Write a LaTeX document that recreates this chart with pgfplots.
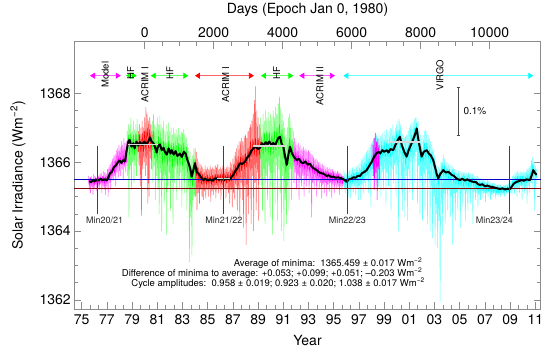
\documentclass[border=0pt]{standalone}
\usepackage{fontspec}
\setmainfont{TeX Gyre Heros}
\usepackage{pgfplots}
\pgfplotsset{compat=1.18}
\usetikzlibrary{arrows.meta}
\definecolor{mag}{RGB}{255,0,255}
\definecolor{lmag}{RGB}{255,100,255}
\definecolor{grn}{RGB}{0,255,0}
\definecolor{lgrn}{RGB}{110,255,110}
\definecolor{rd}{RGB}{255,0,0}
\definecolor{lrd}{RGB}{255,100,100}
\definecolor{cyn}{RGB}{0,255,255}
\definecolor{lcyn}{RGB}{100,255,255}
\definecolor{maroon}{RGB}{128,0,0}
\definecolor{blu}{RGB}{0,0,200}
\tikzset{
  larr/.style 2 args={draw=#2, line width=0.8pt, mark=none,
    arrows={Triangle[length=5pt,width=6pt,color=#1]-Triangle[length=5pt,width=6pt,color=#1]}},
  dat/.style={#1, line width=0.5pt, line join=bevel, mark=none},
}
\begin{document}
\begin{tikzpicture}
\pgfplotsset{/pgf/number format/1000 sep={}, /pgf/number format/assume math mode=true}
\begin{axis}[
  scale only axis, width=466.4pt, height=267.8pt,
  xmin=74.413, xmax=111.43, ymin=1361.727, ymax=1369.5,
  axis line style={black!45, line width=0.6pt},
  tick style={black!45, line width=0.6pt},
  tick align=inside, major tick length=7pt, minor tick length=4pt,
  xtick={75,77,...,111},
  xticklabels={75,77,79,81,83,85,87,89,91,93,95,97,99,01,03,05,07,09,11},
  minor x tick num=2, xtick pos=left,
  ytick={1362,1364,1366,1368}, minor y tick num=3,
  ytick pos=both, yticklabel pos=left,
  tick label style={font=\fontsize{14}{16}\selectfont, text=black},
  xticklabel style={yshift=-2pt},
  clip=false,
]
% ---------- light daily data ----------
\addplot[dat=lmag] coordinates {(75.55,1365.6)(75.6,1365.2)(75.65,1365.55)(75.7,1365.1)(75.75,1365.6)(75.8,1365.3)(75.85,1365.5)(75.9,1365.05)(75.95,1365.65)(76.0,1365.25)(76.05,1365.6)(76.1,1365.35)(76.15,1365.55)(76.2,1365.15)(76.25,1365.7)(76.3,1365.3)(76.35,1365.6)(76.4,1365.2)(76.45,1365.65)(76.5,1365.35)(76.55,1365.7)(76.6,1365.1)(76.65,1365.6)(76.7,1365.3)(76.75,1365.75)(76.8,1365.2)(76.85,1365.7)(76.9,1365.05)(76.95,1365.65)(77.0,1365.3)(77.05,1365.8)(77.1,1365.0)(77.15,1365.85)(77.2,1365.4)(77.25,1365.95)(77.3,1365.2)(77.35,1366.0)(77.4,1365.5)(77.45,1366.1)(77.5,1365.45)(77.55,1366.2)(77.6,1365.6)(77.65,1366.25)(77.7,1365.3)(77.75,1366.35)(77.8,1365.7)(77.85,1366.4)(77.9,1365.55)(77.95,1366.5)(78.0,1365.75)(78.05,1366.45)(78.1,1365.6)(78.15,1366.6)(78.2,1365.8)(78.25,1366.5)(78.3,1365.5)(78.35,1366.7)(78.4,1365.85)(78.45,1366.55)(78.5,1365.7)(78.55,1366.6)(78.6,1365.9)};
\addplot[dat=lgrn] coordinates {(78.6,1366.9)(78.65,1365.6)(78.7,1367.1)(78.75,1364.4)(78.8,1367.0)(78.85,1365.8)(78.9,1367.3)(78.95,1365.2)(79.0,1366.9)(79.05,1366.0)(79.1,1367.2)(79.15,1365.4)(79.2,1366.95)(79.25,1365.9)(79.3,1367.1)(79.35,1365.6)(79.4,1367.25)(79.45,1366.0)(79.5,1366.9)};
\addplot[dat=lrd] coordinates {(79.5,1366.9)(79.55,1365.9)(79.6,1367.1)(79.65,1365.3)(79.7,1367.0)(79.75,1364.45)(79.8,1367.2)(79.85,1365.8)(79.9,1367.0)(79.95,1366.0)(80.0,1367.3)(80.05,1365.6)(80.1,1367.6)(80.15,1365.9)(80.2,1367.4)(80.25,1364.8)(80.3,1367.2)(80.35,1365.0)(80.4,1367.3)(80.45,1366.1)(80.5,1367.1)(80.55,1365.8)(80.6,1366.9)};
\addplot[dat=lgrn] coordinates {(80.6,1367.2)(80.65,1365.4)(80.7,1367.4)(80.75,1365.9)(80.8,1367.1)(80.85,1364.9)(80.9,1367.0)(80.95,1365.6)(81.0,1367.3)(81.05,1365.2)(81.1,1367.1)(81.15,1364.5)(81.2,1367.35)(81.25,1365.7)(81.3,1367.1)(81.35,1364.0)(81.4,1367.0)(81.45,1365.5)(81.5,1367.2)(81.55,1364.8)(81.6,1366.9)(81.65,1365.6)(81.7,1367.1)(81.75,1363.9)(81.8,1366.9)(81.85,1365.3)(81.9,1367.15)(81.95,1365.7)(82.0,1366.9)(82.05,1364.6)(82.1,1367.0)(82.15,1365.5)(82.2,1366.8)(82.25,1364.2)(82.3,1367.0)(82.35,1365.4)(82.4,1366.85)(82.45,1365.8)(82.5,1366.95)(82.55,1364.9)(82.6,1366.8)(82.65,1365.5)(82.7,1367.0)(82.75,1365.2)(82.8,1366.8)(82.85,1365.7)(82.9,1366.9)(82.95,1364.7)(83.0,1366.85)(83.05,1365.5)(83.1,1366.95)(83.15,1365.1)(83.2,1366.8)(83.25,1365.6)(83.3,1366.7)(83.35,1364.6)(83.4,1366.5)(83.45,1365.2)(83.5,1366.4)(83.55,1363.1)(83.6,1366.3)(83.65,1364.4)(83.7,1366.1)(83.75,1363.3)(83.8,1366.2)(83.85,1364.9)(83.9,1366.4)(83.95,1365.0)(84.0,1366.3)};
\addplot[dat=lrd] coordinates {(84.0,1366.4)(84.05,1365.0)(84.1,1366.3)(84.15,1364.6)(84.2,1366.1)(84.25,1365.1)(84.3,1366.0)(84.35,1364.8)(84.4,1365.95)(84.45,1365.2)(84.5,1365.9)(84.55,1365.0)(84.6,1365.85)(84.65,1364.9)(84.7,1365.8)(84.75,1365.15)(84.8,1365.9)(84.85,1364.95)(84.9,1365.8)(84.95,1365.2)(85.0,1365.85)(85.05,1365.0)(85.1,1365.8)(85.15,1365.2)(85.2,1365.9)(85.25,1364.85)(85.3,1365.8)(85.35,1365.15)(85.4,1365.85)(85.45,1365.05)(85.5,1365.8)(85.55,1365.2)(85.6,1365.9)(85.65,1364.95)(85.7,1365.85)(85.75,1365.2)(85.8,1365.95)(85.85,1365.1)(85.9,1365.8)(85.95,1365.25)(86.0,1365.85)(86.05,1364.9)(86.1,1365.8)(86.15,1365.2)(86.2,1365.9)(86.25,1365.1)(86.3,1365.85)(86.35,1365.25)(86.4,1365.8)(86.45,1364.95)(86.5,1365.85)(86.55,1365.2)(86.6,1365.9)(86.65,1365.1)(86.7,1365.85)(86.75,1364.8)(86.8,1366.0)(86.85,1365.2)(86.9,1365.95)(86.95,1364.7)(87.0,1366.1)(87.05,1365.1)(87.1,1366.2)(87.15,1364.9)(87.2,1366.3)(87.25,1365.3)(87.3,1366.4)(87.35,1364.6)(87.4,1366.5)(87.45,1365.2)(87.5,1366.6)(87.55,1364.3)(87.6,1366.6)(87.65,1365.4)(87.7,1366.7)(87.75,1364.9)(87.8,1366.6)(87.85,1364.1)(87.9,1366.75)(87.95,1365.3)(88.0,1366.8)(88.05,1363.6)(88.1,1366.7)(88.15,1365.0)(88.2,1366.9)(88.25,1364.5)(88.3,1367.0)(88.35,1365.5)(88.4,1367.1)(88.45,1364.2)(88.5,1367.2)(88.55,1365.6)(88.6,1367.4)(88.65,1364.0)(88.7,1367.8)(88.75,1365.4)(88.78,1368.2)(88.85,1364.6)(88.9,1367.5)(88.95,1365.7)(89.0,1367.3)(89.05,1364.3)(89.1,1367.1)(89.15,1365.5)(89.2,1367.0)};
\addplot[dat=lgrn] coordinates {(89.2,1367.3)(89.25,1365.3)(89.3,1367.1)(89.35,1364.6)(89.4,1367.4)(89.45,1365.8)(89.5,1367.2)(89.55,1364.2)(89.6,1367.5)(89.65,1365.6)(89.7,1367.3)(89.75,1364.9)(89.8,1367.45)(89.85,1365.9)(89.9,1367.2)(89.95,1364.4)(90.0,1367.4)(90.05,1365.5)(90.1,1367.3)(90.15,1363.9)(90.2,1367.5)(90.25,1365.7)(90.3,1367.3)(90.35,1364.8)(90.4,1367.6)(90.45,1365.9)(90.5,1367.4)(90.55,1364.3)(90.6,1367.7)(90.65,1365.8)(90.7,1367.9)(90.75,1365.1)(90.8,1367.6)(90.85,1364.0)(90.9,1367.4)(90.95,1365.6)(91.0,1367.2)(91.05,1363.7)(91.1,1367.0)(91.15,1364.9)(91.2,1366.8)(91.25,1364.2)(91.3,1367.0)(91.35,1365.3)(91.4,1367.3)(91.45,1364.6)(91.5,1367.4)(91.55,1365.8)(91.6,1367.2)(91.65,1364.9)(91.7,1367.0)(91.75,1365.5)(91.8,1366.9)};
\addplot[dat=lmag] coordinates {(91.8,1366.6)(91.85,1365.4)(91.9,1366.7)(91.95,1365.7)(92.0,1366.6)(92.05,1365.2)(92.1,1366.5)(92.15,1365.6)(92.2,1366.55)(92.25,1364.9)(92.3,1366.45)(92.35,1365.5)(92.4,1366.5)(92.45,1365.3)(92.5,1366.4)(92.55,1365.6)(92.6,1366.45)(92.65,1365.0)(92.7,1366.35)(92.75,1365.5)(92.8,1366.4)(92.85,1365.3)(92.9,1366.3)(92.95,1365.6)(93.0,1366.35)(93.05,1365.1)(93.1,1366.3)(93.15,1365.5)(93.2,1366.25)(93.25,1364.4)(93.3,1366.2)(93.35,1365.4)(93.4,1366.15)(93.45,1365.2)(93.5,1366.1)(93.55,1365.5)(93.6,1366.1)(93.65,1365.0)(93.7,1366.05)(93.75,1365.45)(93.8,1366.0)(93.85,1365.2)(93.9,1366.0)(93.95,1365.4)(94.0,1365.95)(94.05,1364.95)(94.1,1365.95)(94.15,1365.35)(94.2,1365.9)(94.25,1365.1)(94.3,1365.9)(94.35,1365.4)(94.4,1365.85)(94.45,1365.0)(94.5,1365.85)(94.55,1365.35)(94.6,1365.8)(94.65,1365.15)(94.7,1365.85)(94.75,1365.4)(94.8,1365.8)(94.85,1364.95)(94.9,1365.8)(94.95,1365.35)(95.0,1365.75)(95.05,1365.1)(95.1,1365.75)(95.15,1365.35)(95.2,1365.7)(95.25,1365.2)(95.3,1365.75)(95.35,1365.3)(95.4,1365.7)(95.45,1365.05)(95.5,1365.7)(95.55,1365.3)(95.6,1365.65)(95.65,1365.2)(95.7,1365.6)(95.75,1365.3)(95.8,1365.6)};
\addplot[dat=lcyn] coordinates {(95.8,1365.75)(95.85,1365.2)(95.9,1365.7)(95.95,1365.1)(96.0,1365.65)(96.05,1365.2)(96.1,1365.7)(96.15,1365.0)(96.2,1365.75)(96.25,1365.25)(96.3,1365.8)(96.35,1364.95)(96.4,1365.75)(96.45,1365.3)(96.5,1365.85)(96.55,1365.1)(96.6,1365.8)(96.65,1365.3)(96.7,1365.9)(96.75,1365.05)(96.8,1365.85)(96.85,1365.25)(96.9,1365.9)(96.95,1364.9)(97.0,1365.95)(97.05,1365.3)(97.1,1366.0)(97.15,1364.9)(97.2,1366.05)(97.25,1365.35)(97.3,1366.1)(97.35,1365.1)(97.4,1366.2)(97.45,1365.4)(97.5,1366.25)(97.55,1365.2)(97.6,1366.3)(97.65,1365.5)(97.7,1366.35)(97.75,1365.1)(97.8,1366.4)(97.85,1365.6)(97.9,1366.5)(97.95,1364.7)(98.0,1366.55)(98.05,1365.6)(98.1,1366.6)(98.15,1365.2)(98.2,1366.7)(98.25,1365.8)(98.3,1366.75)(98.35,1365.4)(98.4,1366.8)(98.45,1365.9)(98.5,1366.7)(98.55,1365.3)(98.6,1366.8)(98.65,1365.8)(98.7,1366.75)(98.75,1365.0)(98.8,1366.8)(98.85,1365.7)(98.9,1366.85)(98.95,1365.2)(99.0,1366.9)(99.05,1365.8)(99.1,1366.8)(99.15,1364.8)(99.2,1366.95)(99.25,1365.7)(99.3,1366.85)(99.35,1365.3)(99.4,1366.9)(99.45,1365.9)(99.5,1367.0)(99.55,1364.6)(99.6,1366.95)(99.65,1365.8)(99.7,1367.1)(99.75,1365.4)(99.8,1366.9)(99.85,1365.9)(99.9,1367.0)(99.95,1365.0)(100.0,1367.1)(100.05,1365.9)(100.1,1367.2)(100.15,1364.0)(100.2,1367.25)(100.25,1366.0)(100.3,1367.1)(100.35,1365.2)(100.4,1366.9)(100.45,1364.6)(100.5,1366.8)(100.55,1365.5)(100.6,1366.7)(100.65,1364.4)(100.7,1366.75)(100.75,1365.6)(100.8,1366.8)(100.85,1364.3)(100.9,1366.9)(100.95,1365.8)(101.0,1367.0)(101.05,1365.1)(101.1,1367.1)(101.15,1366.0)(101.2,1367.15)(101.25,1364.9)(101.3,1367.2)(101.35,1366.1)(101.4,1367.25)(101.45,1365.4)(101.5,1367.3)(101.55,1366.3)(101.6,1367.3)(101.65,1364.8)(101.7,1367.2)(101.75,1365.9)(101.8,1366.95)(101.85,1364.5)(101.9,1366.8)(101.95,1365.6)(102.0,1366.7)(102.05,1364.3)(102.1,1366.8)(102.15,1365.7)(102.2,1366.9)(102.25,1364.6)(102.3,1366.95)(102.35,1365.8)(102.4,1366.9)(102.45,1364.2)(102.5,1366.8)(102.55,1365.5)(102.6,1366.7)(102.65,1364.0)(102.7,1366.6)(102.75,1365.3)(102.8,1366.5)(102.85,1363.8)(102.9,1366.4)(102.95,1365.0)(103.0,1366.2)(103.05,1363.6)(103.1,1366.0)(103.15,1364.5)(103.2,1365.9)(103.25,1363.5)(103.3,1365.85)(103.35,1364.3)(103.4,1365.8)(103.45,1361.95)(103.5,1366.0)(103.55,1364.8)(103.6,1366.1)(103.65,1363.9)(103.7,1366.2)(103.75,1365.1)(103.8,1366.1)(103.85,1364.2)(103.9,1366.0)(103.95,1365.2)(104.0,1366.0)(104.05,1364.6)(104.1,1365.95)(104.15,1365.2)(104.2,1365.9)(104.25,1364.4)(104.3,1365.9)(104.35,1365.0)(104.4,1365.9)(104.45,1363.6)(104.5,1365.85)(104.55,1365.1)(104.6,1365.8)(104.65,1364.3)(104.7,1365.8)(104.75,1365.1)(104.8,1365.75)(104.85,1364.6)(104.9,1365.75)(104.95,1365.2)(105.0,1365.7)(105.05,1364.1)(105.1,1365.75)(105.15,1365.1)(105.2,1365.7)(105.25,1364.7)(105.3,1365.7)(105.35,1365.2)(105.4,1365.7)(105.45,1364.3)(105.5,1365.7)(105.55,1365.1)(105.6,1365.65)(105.65,1364.6)(105.7,1365.7)(105.75,1365.15)(105.8,1365.65)(105.85,1364.8)(105.9,1365.7)(105.95,1365.2)(106.0,1365.65)(106.05,1364.2)(106.1,1365.65)(106.15,1365.15)(106.2,1365.6)(106.25,1364.9)(106.3,1365.6)(106.35,1365.1)(106.4,1365.6)(106.45,1364.7)(106.5,1365.55)(106.55,1365.05)(106.6,1365.55)(106.65,1364.9)(106.7,1365.5)(106.75,1365.1)(106.8,1365.5)(106.85,1364.95)(106.9,1365.5)(106.95,1365.1)(107.0,1365.5)(107.05,1364.85)(107.1,1365.45)(107.15,1365.1)(107.2,1365.5)(107.25,1365.0)(107.3,1365.45)(107.35,1365.1)(107.4,1365.45)(107.45,1364.9)(107.5,1365.4)(107.55,1365.05)(107.6,1365.4)(107.65,1365.0)(107.7,1365.4)(107.75,1365.1)(107.8,1365.4)(107.85,1364.95)(107.9,1365.35)(107.95,1365.05)(108.0,1365.35)(108.05,1365.0)(108.1,1365.35)(108.15,1365.05)(108.2,1365.35)(108.25,1365.0)(108.3,1365.35)(108.35,1365.05)(108.4,1365.3)(108.45,1365.05)(108.5,1365.35)(108.55,1365.0)(108.6,1365.35)(108.65,1365.1)(108.7,1365.35)(108.75,1365.05)(108.8,1365.35)(108.85,1365.1)(108.9,1365.4)(108.95,1365.0)(109.0,1365.45)(109.05,1365.1)(109.1,1365.5)(109.15,1365.05)(109.2,1365.6)(109.25,1365.2)(109.3,1365.65)(109.35,1365.1)(109.4,1365.7)(109.45,1365.25)(109.5,1365.7)(109.55,1365.0)(109.6,1365.75)(109.65,1365.25)(109.7,1365.7)(109.75,1365.1)(109.8,1365.75)(109.85,1365.3)(109.9,1365.7)(109.95,1364.9)(110.0,1365.7)(110.05,1365.3)(110.1,1365.75)(110.15,1365.1)(110.2,1365.7)(110.25,1365.25)(110.3,1365.75)(110.35,1364.8)(110.4,1365.8)(110.45,1365.3)(110.5,1365.85)(110.55,1365.1)(110.6,1365.9)(110.65,1365.4)(110.7,1366.05)(110.75,1365.2)(110.8,1366.15)(110.85,1365.5)(110.9,1366.0)(110.95,1364.6)(111.0,1365.9)(111.05,1365.3)(111.1,1365.8)};
% ---------- saturated daily data ----------
\addplot[dat=mag] coordinates {(75.55,1365.5)(75.6,1365.35)(75.7,1365.55)(75.8,1365.38)(75.9,1365.52)(76.0,1365.33)(76.1,1365.55)(76.2,1365.4)(76.3,1365.58)(76.4,1365.36)(76.5,1365.56)(76.6,1365.4)(76.7,1365.6)(76.8,1365.38)(76.9,1365.58)(77.0,1365.42)(77.1,1365.62)(77.2,1365.5)(77.3,1365.8)(77.4,1365.6)(77.5,1365.92)(77.6,1365.7)(77.7,1366.05)(77.8,1365.85)(77.9,1366.15)(78.0,1365.9)(78.1,1366.15)(78.2,1365.92)(78.3,1366.2)(78.4,1365.95)(78.5,1366.2)(78.6,1366.0)};
\addplot[dat=grn] coordinates {(78.6,1366.3)(78.7,1366.8)(78.8,1366.2)(78.9,1366.85)(79.0,1366.25)(79.1,1366.8)(79.2,1366.2)(79.3,1366.85)(79.4,1366.3)(79.5,1366.8)};
\addplot[dat=rd] coordinates {(79.5,1366.3)(79.6,1366.8)(79.7,1366.3)(79.8,1366.85)(79.9,1366.3)(80.0,1366.9)(80.1,1366.35)(80.2,1367.0)(80.3,1366.4)(80.4,1366.95)(80.5,1366.4)(80.6,1366.8)};
\addplot[dat=grn] coordinates {(80.6,1366.35)(80.7,1366.9)(80.8,1366.1)(80.9,1366.6)(81.0,1366.05)(81.1,1366.75)(81.2,1366.2)(81.3,1366.7)(81.4,1365.95)(81.5,1366.6)(81.6,1366.0)(81.7,1366.55)(81.8,1365.9)(81.9,1366.6)(82.0,1366.0)(82.1,1366.55)(82.2,1365.85)(82.3,1366.55)(82.4,1366.0)(82.5,1366.5)(82.6,1365.9)(82.7,1366.55)(82.8,1365.95)(82.9,1366.5)(83.0,1365.9)(83.1,1366.55)(83.2,1366.0)(83.3,1366.45)(83.4,1365.7)(83.5,1366.15)(83.6,1365.4)(83.7,1365.85)(83.8,1365.3)(83.9,1366.1)(84.0,1365.7)};
\addplot[dat=rd] coordinates {(84.0,1366.0)(84.1,1365.6)(84.2,1365.85)(84.3,1365.4)(84.4,1365.7)(84.5,1365.35)(84.6,1365.65)(84.7,1365.35)(84.8,1365.6)(84.9,1365.35)(85.0,1365.62)(85.1,1365.38)(85.2,1365.6)(85.3,1365.35)(85.4,1365.62)(85.5,1365.4)(85.6,1365.65)(85.7,1365.4)(85.8,1365.65)(85.9,1365.42)(86.0,1365.65)(86.1,1365.4)(86.2,1365.66)(86.3,1365.42)(86.4,1365.64)(86.5,1365.4)(86.6,1365.65)(86.7,1365.42)(86.8,1365.68)(86.9,1365.45)(87.0,1365.78)(87.1,1365.5)(87.2,1365.9)(87.3,1365.6)(87.4,1366.05)(87.5,1365.7)(87.6,1366.15)(87.7,1365.75)(87.8,1366.2)(87.9,1365.8)(88.0,1366.25)(88.1,1365.85)(88.2,1366.4)(88.3,1366.0)(88.4,1366.6)(88.5,1366.15)(88.6,1366.65)(88.7,1366.2)(88.8,1366.7)(88.9,1366.15)(89.0,1366.7)(89.1,1366.2)(89.2,1366.6)};
\addplot[dat=grn] coordinates {(89.2,1366.1)(89.3,1366.7)(89.4,1366.2)(89.5,1366.85)(89.6,1366.3)(89.7,1366.9)(89.8,1366.25)(89.9,1366.85)(90.0,1366.2)(90.1,1366.85)(90.2,1366.25)(90.3,1366.9)(90.4,1366.35)(90.5,1367.0)(90.6,1366.4)(90.7,1367.1)(90.8,1366.45)(90.9,1366.95)(91.0,1366.1)(91.1,1366.5)(91.2,1365.7)(91.3,1366.2)(91.4,1365.95)(91.5,1366.7)(91.6,1366.1)(91.7,1366.5)(91.8,1366.0)};
\addplot[dat=mag] coordinates {(91.8,1366.3)(91.9,1366.0)(92.0,1366.3)(92.1,1365.9)(92.2,1366.2)(92.3,1365.85)(92.4,1366.15)(92.5,1365.85)(92.6,1366.1)(92.7,1365.8)(92.8,1366.1)(92.9,1365.8)(93.0,1366.05)(93.1,1365.75)(93.2,1366.0)(93.3,1365.7)(93.4,1365.95)(93.5,1365.65)(93.6,1365.9)(93.7,1365.6)(93.8,1365.85)(93.9,1365.55)(94.0,1365.8)(94.1,1365.5)(94.2,1365.75)(94.3,1365.5)(94.4,1365.75)(94.5,1365.5)(94.6,1365.7)(94.7,1365.45)(94.8,1365.7)(94.9,1365.45)(95.0,1365.7)(95.1,1365.45)(95.2,1365.65)(95.3,1365.4)(95.4,1365.65)(95.5,1365.4)(95.6,1365.6)(95.7,1365.38)(95.8,1365.55)};
\addplot[dat=cyn] coordinates {(95.8,1365.6)(95.9,1365.35)(96.0,1365.55)(96.1,1365.32)(96.2,1365.6)(96.3,1365.38)(96.4,1365.65)(96.5,1365.42)(96.6,1365.68)(96.7,1365.45)(96.8,1365.7)(96.9,1365.45)(97.0,1365.72)(97.1,1365.48)(97.2,1365.78)(97.3,1365.5)(97.4,1365.88)(97.5,1365.6)(97.6,1365.95)(97.7,1365.65)(97.8,1366.1)(97.9,1365.8)(98.0,1366.2)(98.1,1365.9)(98.2,1366.4)(98.3,1366.05)(98.4,1366.45)(98.5,1366.1)(98.6,1366.5)(98.7,1366.1)(98.8,1366.5)(98.9,1366.15)(99.0,1366.55)(99.1,1366.15)(99.2,1366.55)(99.3,1366.15)(99.4,1366.55)(99.5,1366.15)(99.6,1366.6)(99.7,1366.2)(99.8,1366.7)(99.9,1366.3)(100.0,1366.9)(100.1,1366.5)(100.2,1366.95)(100.3,1366.4)(100.4,1366.6)(100.5,1366.1)(100.6,1366.4)(100.7,1365.95)(100.8,1366.4)(100.9,1366.1)(101.0,1366.6)(101.1,1366.3)(101.2,1366.8)(101.3,1366.45)(101.4,1367.0)(101.5,1366.7)(101.6,1367.15)(101.7,1366.6)(101.8,1366.6)(101.9,1366.0)(102.0,1366.4)(102.1,1366.0)(102.2,1366.55)(102.3,1366.1)(102.4,1366.55)(102.5,1366.1)(102.6,1366.35)(102.7,1365.95)(102.8,1366.3)(102.9,1365.85)(103.0,1366.0)(103.1,1365.5)(103.2,1365.7)(103.3,1365.3)(103.4,1365.7)(103.5,1365.5)(103.6,1365.95)(103.7,1365.6)(103.8,1365.9)(103.9,1365.55)(104.0,1365.85)(104.1,1365.5)(104.2,1365.8)(104.3,1365.45)(104.4,1365.8)(104.5,1365.4)(104.6,1365.7)(104.7,1365.35)(104.8,1365.65)(104.9,1365.35)(105.0,1365.6)(105.1,1365.3)(105.2,1365.6)(105.3,1365.3)(105.4,1365.6)(105.5,1365.3)(105.6,1365.58)(105.7,1365.3)(105.8,1365.56)(105.9,1365.3)(106.0,1365.55)(106.1,1365.3)(106.2,1365.5)(106.3,1365.22)(106.4,1365.45)(106.5,1365.2)(106.6,1365.45)(106.7,1365.18)(106.8,1365.42)(106.9,1365.16)(107.0,1365.4)(107.1,1365.15)(107.2,1365.38)(107.3,1365.15)(107.4,1365.36)(107.5,1365.12)(107.6,1365.33)(107.7,1365.1)(107.8,1365.3)(107.9,1365.1)(108.0,1365.3)(108.1,1365.1)(108.2,1365.3)(108.3,1365.12)(108.4,1365.28)(108.5,1365.12)(108.6,1365.3)(108.7,1365.12)(108.8,1365.3)(108.9,1365.15)(109.0,1365.35)(109.1,1365.2)(109.2,1365.45)(109.3,1365.3)(109.4,1365.55)(109.5,1365.35)(109.6,1365.6)(109.7,1365.35)(109.8,1365.6)(109.9,1365.38)(110.0,1365.6)(110.1,1365.4)(110.2,1365.6)(110.3,1365.4)(110.4,1365.62)(110.5,1365.45)(110.6,1365.7)(110.7,1365.6)(110.8,1365.95)(110.9,1365.6)(111.0,1365.8)(111.1,1365.55)};
\addplot[dat=mag] coordinates {(98.1,1366.5)(98.15,1365.6)(98.2,1366.7)(98.25,1365.2)(98.3,1366.85)(98.35,1365.7)(98.4,1366.6)(98.45,1364.9)(98.5,1366.7)(98.55,1365.8)(98.6,1366.5)(98.65,1365.5)};
% ---------- reference levels ----------
\addplot[blu, line width=0.9pt, mark=none] coordinates {(74.413,1365.50)(111.43,1365.50)};
\addplot[maroon, line width=0.9pt, mark=none] coordinates {(74.413,1365.24)(111.43,1365.24)};
% ---------- 81-day running mean ----------
\addplot[black, line width=2pt, line join=round, mark=none] coordinates {(75.6,1365.45)(75.75,1365.42)(75.9,1365.48)(76.05,1365.44)(76.2,1365.5)(76.35,1365.47)(76.5,1365.52)(76.65,1365.48)(76.8,1365.5)(76.98,1365.47)(77.1,1365.55)(77.25,1365.68)(77.4,1365.72)(77.55,1365.85)(77.7,1365.9)(77.9,1366.01)(78.0,1366.05)(78.15,1365.98)(78.3,1366.06)(78.44,1366.02)(78.55,1366.3)(78.7,1366.6)(78.8,1366.65)(78.95,1366.45)(79.1,1366.55)(79.2,1366.4)(79.35,1366.6)(79.5,1366.48)(79.63,1366.58)(79.8,1366.5)(79.95,1366.6)(80.1,1366.52)(80.29,1366.6)(80.42,1366.72)(80.55,1366.6)(80.7,1366.55)(80.85,1366.4)(80.95,1366.28)(81.05,1366.45)(81.2,1366.52)(81.35,1366.35)(81.5,1366.42)(81.6,1366.3)(81.75,1366.22)(81.9,1366.4)(82.05,1366.25)(82.15,1366.35)(82.3,1366.22)(82.45,1366.32)(82.6,1366.18)(82.8,1366.25)(82.95,1366.15)(83.1,1366.3)(83.25,1366.25)(83.4,1366.05)(83.55,1365.9)(83.65,1365.75)(83.73,1365.58)(83.85,1365.75)(83.99,1365.97)(84.13,1365.72)(84.3,1365.65)(84.5,1365.55)(84.65,1365.48)(84.8,1365.52)(85.0,1365.47)(85.2,1365.5)(85.4,1365.46)(85.55,1365.52)(85.71,1365.53)(85.9,1365.49)(86.1,1365.52)(86.3,1365.48)(86.5,1365.53)(86.77,1365.5)(86.9,1365.58)(87.03,1365.63)(87.2,1365.75)(87.35,1365.82)(87.56,1365.97)(87.75,1365.95)(87.96,1366.01)(88.1,1366.12)(88.3,1366.2)(88.45,1366.32)(88.62,1366.4)(88.8,1366.45)(89.0,1366.38)(89.15,1366.42)(89.3,1366.55)(89.45,1366.48)(89.6,1366.58)(89.75,1366.52)(89.9,1366.6)(90.05,1366.5)(90.21,1366.56)(90.35,1366.48)(90.5,1366.62)(90.6,1366.7)(90.74,1366.74)(90.85,1366.55)(91.0,1366.45)(91.1,1366.25)(91.27,1365.92)(91.4,1366.2)(91.53,1366.45)(91.7,1366.25)(91.85,1366.15)(92.06,1366.06)(92.25,1366.1)(92.4,1366.0)(92.59,1365.97)(92.75,1366.02)(92.95,1365.93)(93.12,1365.95)(93.3,1365.85)(93.5,1365.8)(93.65,1365.77)(93.85,1365.7)(94.05,1365.68)(94.25,1365.65)(94.44,1365.6)(94.6,1365.62)(94.8,1365.57)(94.97,1365.58)(95.15,1365.55)(95.35,1365.56)(95.63,1365.53)(95.8,1365.5)(96.03,1365.43)(96.2,1365.5)(96.4,1365.52)(96.56,1365.56)(96.75,1365.55)(96.9,1365.6)(97.09,1365.6)(97.25,1365.68)(97.45,1365.72)(97.62,1365.77)(97.8,1365.88)(98.02,1366.01)(98.2,1366.15)(98.41,1366.26)(98.55,1366.3)(98.7,1366.25)(98.85,1366.35)(99.0,1366.3)(99.21,1366.35)(99.35,1366.28)(99.5,1366.38)(99.73,1366.35)(99.9,1366.5)(100.1,1366.65)(100.26,1366.74)(100.4,1366.5)(100.6,1366.3)(100.79,1366.16)(100.95,1366.35)(101.19,1366.55)(101.35,1366.7)(101.5,1366.85)(101.59,1366.98)(101.7,1366.7)(101.85,1366.4)(101.98,1366.16)(102.15,1366.3)(102.38,1366.35)(102.55,1366.25)(102.7,1366.2)(102.9,1366.06)(103.05,1365.85)(103.18,1365.65)(103.3,1365.53)(103.45,1365.65)(103.7,1365.77)(103.9,1365.7)(104.1,1365.72)(104.37,1365.63)(104.55,1365.6)(104.75,1365.52)(105.02,1365.48)(105.2,1365.52)(105.4,1365.47)(105.6,1365.5)(105.85,1365.45)(106.08,1365.43)(106.3,1365.42)(106.45,1365.36)(106.61,1365.34)(106.8,1365.36)(107.0,1365.3)(107.2,1365.32)(107.4,1365.29)(107.6,1365.28)(107.8,1365.26)(108.0,1365.24)(108.2,1365.22)(108.4,1365.24)(108.6,1365.21)(108.8,1365.23)(108.99,1365.22)(109.15,1365.3)(109.3,1365.38)(109.52,1365.43)(109.7,1365.45)(109.9,1365.48)(110.1,1365.46)(110.3,1365.5)(110.58,1365.48)(110.7,1365.6)(110.84,1365.77)(110.95,1365.7)(111.11,1365.63)};
% ---------- maxima / minima levels ----------
\addplot[white!85!black, line width=1.5pt, mark=none] coordinates {(78.70,1366.52)(81.08,1366.52)};
\addplot[white!85!black, line width=1.5pt, mark=none] coordinates {(88.62,1366.47)(91.13,1366.47)};
\addplot[white!85!black, line width=1.5pt, mark=none] coordinates {(99.41,1366.58)(101.85,1366.58)};
\addplot[white!85!black, line width=1.5pt, mark=none] coordinates {(85.71,1365.53)(86.77,1365.53)};
% ---------- minima markers ----------
\addplot[black!75, line width=1pt, mark=none] coordinates {(76.24,1364.50)(76.24,1366.47)};
\addplot[black!75, line width=1pt, mark=none] coordinates {(86.24,1364.50)(86.24,1366.47)};
\addplot[black!75, line width=1pt, mark=none] coordinates {(96.11,1364.50)(96.11,1366.47)};
\addplot[black!75, line width=1pt, mark=none] coordinates {(108.94,1364.50)(108.94,1366.47)};
% ---------- instrument arrows ----------
\addplot[larr={mag}{lmag}] coordinates {(75.66,1368.51)(78.10,1368.51)};
\addplot[larr={grn}{lgrn}] coordinates {(78.52,1368.51)(79.37,1368.51)};
\addplot[larr={grn}{lgrn}] coordinates {(80.48,1368.51)(83.46,1368.51)};
\addplot[larr={rd}{lrd}] coordinates {(83.99,1368.51)(88.67,1368.51)};
\addplot[larr={grn}{lgrn}] coordinates {(89.23,1368.51)(91.80,1368.51)};
\addplot[larr={mag}{lmag}] coordinates {(92.27,1368.51)(95.10,1368.51)};
\addplot[larr={cyn}{lcyn}] coordinates {(95.76,1368.51)(110.84,1368.51)};
% scale bar
\addplot[black!70, line width=0.6pt, mark=none] coordinates {(104.87,1368.17)(104.87,1366.79)};
\addplot[black!70, line width=0.6pt, mark=none] coordinates {(104.75,1368.17)(104.99,1368.17)};
\addplot[black!70, line width=0.6pt, mark=none] coordinates {(104.75,1366.79)(104.99,1366.79)};
% ---------- texts ----------
\begin{scope}[every node/.style={rotate=90, anchor=east, inner sep=0pt, font=\fontsize{9.5}{10}\selectfont}]
\node at (axis cs:76.86,1368.92) {Model};
\node at (axis cs:78.89,1368.77) {HF};
\node at (axis cs:80.02,1368.77) {ACRIM I};
\node at (axis cs:82.01,1368.77) {HF};
\node at (axis cs:86.43,1368.77) {ACRIM I};
\node at (axis cs:90.48,1368.77) {HF};
\node at (axis cs:93.91,1368.77) {ACRIM II};
\node at (axis cs:103.44,1368.98) {VIRGO};
\end{scope}
\node[font=\fontsize{10}{12}\selectfont] at (axis cs:106.21,1367.47) {0.1\%};
\begin{scope}[every node/.style={inner sep=0pt, text=black!85, font=\fontsize{9}{10}\selectfont}]
\node at (axis cs:76.82,1364.30) {Min20/21};
\node at (axis cs:86.28,1364.30) {Min21/22};
\node at (axis cs:96.09,1364.30) {Min22/23};
\node at (axis cs:107.76,1364.30) {Min23/24};
\end{scope}
\begin{scope}[every node/.style={anchor=east, inner sep=0pt, font=\fontsize{9.5}{10}\selectfont}]
\node at (axis cs:102.05,1363.08) {Average of minima:\ \ 1365.459 ± 0.017 Wm\textsuperscript{−2}};
\node at (axis cs:102.05,1362.78) {Difference of minima to average: +0.053; +0.099; +0.051; –0.203 Wm\textsuperscript{−2}};
\node at (axis cs:102.25,1362.48) {Cycle amplitudes:\ \ 0.958 ± 0.019; 0.923 ± 0.020; 1.038 ± 0.017 Wm\textsuperscript{−2}};
\end{scope}
\end{axis}
\begin{axis}[
  scale only axis, width=466.4pt, height=267.8pt,
  xmin=-2040.6, xmax=11479.8, ymin=0, ymax=1,
  axis x line*=top, hide y axis,
  axis line style={black!45, line width=0.6pt},
  tick style={black!45, line width=0.6pt},
  tick align=inside, major tick length=7pt, minor tick length=4pt,
  xtick={0,2000,...,10000}, minor x tick num=3,
  scaled x ticks=false,
  xticklabel={\pgfmathprintnumber[fixed,precision=0]{\tick}},
  tick label style={font=\fontsize{14}{16}\selectfont, text=black},
]
\end{axis}
\node[font=\fontsize{14}{16}\selectfont] at (233.2pt,-31.6pt) {Year};
\node[font=\fontsize{14}{16}\selectfont, rotate=90] at (-56.3pt,133.9pt) {Solar Irradiance (Wm\textsuperscript{−2})};
\node[font=\fontsize{14}{16}\selectfont] at (233.2pt,299.4pt) {Days (Epoch Jan 0, 1980)};
\pgfresetboundingbox
\path (-74.3pt,-42.6pt) rectangle (475.7pt,309.4pt);
\end{tikzpicture}
\end{document}
